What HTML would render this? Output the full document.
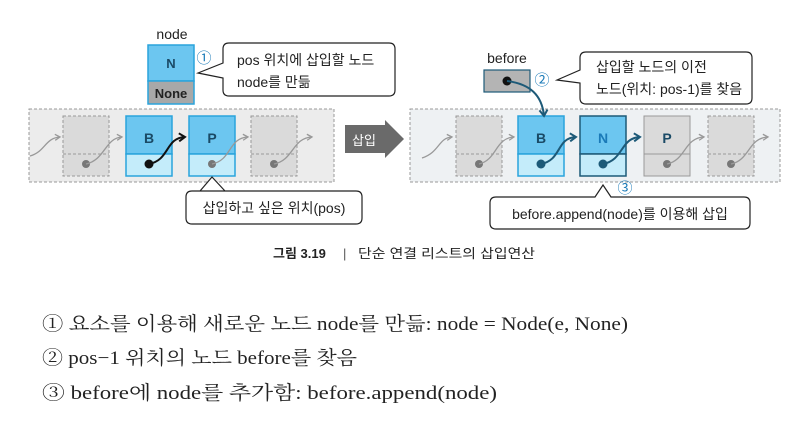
<!DOCTYPE html>
<html><head><meta charset="utf-8"><style>
body{margin:0;background:#fff;width:800px;height:417px;overflow:hidden}
svg text{font-family:"Liberation Sans","Noto Sans CJK KR",sans-serif}
.s{font-family:"Liberation Serif","Noto Serif CJK SC","Noto Sans CJK KR",serif !important}
</style></head><body>
<svg width="800" height="417" viewBox="0 0 800 417" xmlns="http://www.w3.org/2000/svg">
<defs>
<marker id="ag" markerWidth="8" markerHeight="8" refX="6" refY="4" orient="auto" markerUnits="userSpaceOnUse"><path d="M1,1 L6,4 L1,7" fill="none" stroke="#999" stroke-width="1.3"/></marker>
<marker id="ak" markerWidth="10" markerHeight="10" refX="7" refY="5" orient="auto" markerUnits="userSpaceOnUse"><path d="M1,1 L7,5 L1,9" fill="none" stroke="#111" stroke-width="2"/></marker>
<marker id="ab" markerWidth="10" markerHeight="10" refX="7" refY="5" orient="auto" markerUnits="userSpaceOnUse"><path d="M1,1 L7,5 L1,9" fill="none" stroke="#1d5a78" stroke-width="2"/></marker>
</defs>
<!-- LEFT -->
<text x="172" y="39" font-size="14" text-anchor="middle" fill="#222">node</text>
<rect x="148" y="45" width="46" height="36" fill="#6cc6f0" stroke="#2aa4dc" stroke-width="1.5"/>
<rect x="148" y="81" width="46" height="23" fill="#a8a8a8" stroke="#2aa4dc" stroke-width="1.5"/>
<text x="171" y="68" font-size="13" font-weight="bold" text-anchor="middle" fill="#1a4a66">N</text>
<text x="171" y="98" font-size="13" font-weight="bold" text-anchor="middle" fill="#222">None</text>
<text x="204" y="63" font-size="15" text-anchor="middle" fill="#1a7ab8">①</text>
<path d="M229,43 H389 Q395,43 395,49 V90 Q395,96 389,96 H229 Q223,96 223,90 V78 L198,73 L223,63 V49 Q223,43 229,43 Z" fill="#fff" stroke="#222" stroke-width="1.2"/>
<text x="237" y="65" font-size="14" fill="#222">pos 위치에 삽입할 노드</text>
<text x="237" y="87" font-size="14" fill="#222">node를 만듦</text>
<rect x="29" y="109" width="305" height="73" fill="#ececec" stroke="#999" stroke-dasharray="3,2"/>
<rect x="63" y="116" width="46" height="60" fill="#dadada" stroke="#999" stroke-dasharray="3,2"/>
<line x1="63" y1="154" x2="109" y2="154" stroke="#999" stroke-dasharray="3,2"/>
<rect x="251" y="116" width="46" height="60" fill="#dadada" stroke="#999" stroke-dasharray="3,2"/>
<line x1="251" y1="154" x2="297" y2="154" stroke="#999" stroke-dasharray="3,2"/>
<rect x="126" y="116" width="46" height="38" fill="#6cc6f0" stroke="#2aa4dc" stroke-width="1.5"/>
<rect x="126" y="154" width="46" height="22" fill="#c4ecfa" stroke="#2aa4dc" stroke-width="1.5"/>
<rect x="189" y="116" width="46" height="38" fill="#6cc6f0" stroke="#2aa4dc" stroke-width="1.5"/>
<rect x="189" y="154" width="46" height="22" fill="#c4ecfa" stroke="#2aa4dc" stroke-width="1.5"/>
<text x="149" y="143" font-size="14" font-weight="bold" text-anchor="middle" fill="#1a4a66">B</text>
<text x="212" y="143" font-size="14" font-weight="bold" text-anchor="middle" fill="#1a4a66">P</text>
<path d="M30,156 C45,152 45,138 60,137" fill="none" stroke="#999" stroke-width="1.3" marker-end="url(#ag)"/>
<circle cx="86" cy="164" r="4" fill="#777"/><path d="M86,164 C105,160 105,138 122,137" fill="none" stroke="#999" stroke-width="1.3" marker-end="url(#ag)"/>
<circle cx="149" cy="164" r="4.5" fill="#111"/><path d="M149,164 C170,160 165,138 185,137" fill="none" stroke="#111" stroke-width="2" marker-end="url(#ak)"/>
<circle cx="212" cy="164" r="4" fill="#777"/><path d="M212,164 C232,160 228,138 248,137" fill="none" stroke="#999" stroke-width="1.3" marker-end="url(#ag)"/>
<circle cx="274" cy="164" r="4" fill="#777"/><path d="M274,164 C294,160 292,138 312,137" fill="none" stroke="#999" stroke-width="1.3" marker-end="url(#ag)"/>
<path d="M192,191 H356 Q362,191 362,197 V218 Q362,224 356,224 H192 Q186,224 186,218 V197 Q186,191 192,191 H200 L212,177 L225,191" fill="#fff" stroke="#222" stroke-width="1.2"/>
<text x="274" y="213" font-size="14" text-anchor="middle" fill="#222">삽입하고 싶은 위치(pos)</text>
<!-- arrow -->
<path d="M345,125 H385 V120 L404,139 L385,158 V153 H345 Z" fill="#6a6a6a"/>
<text x="364" y="145" font-size="13" text-anchor="middle" fill="#fff">삽입</text>
<!-- RIGHT -->
<text x="507" y="63" font-size="14" text-anchor="middle" fill="#222">before</text>
<rect x="484" y="70" width="46" height="22" fill="#b4b4b4" stroke="#1d5a78" stroke-width="1.2"/>
<text x="542" y="85" font-size="15" text-anchor="middle" fill="#1a7ab8">②</text>
<path d="M586,52 H746 Q752,52 752,58 V98 Q752,104 746,104 H586 Q580,104 580,98 V83 L557,80 L580,70 V58 Q580,52 586,52 Z" fill="#fff" stroke="#222" stroke-width="1.2"/>
<text x="596" y="72" font-size="14" fill="#222">삽입할 노드의 이전</text>
<text x="596" y="94" font-size="14" fill="#222">노드(위치: pos-1)를 찾음</text>
<rect x="410" y="109" width="370" height="73" fill="#eef1f3" stroke="#999" stroke-dasharray="3,2"/>
<rect x="456" y="116" width="46" height="60" fill="#dadada" stroke="#999" stroke-dasharray="3,2"/>
<line x1="456" y1="154" x2="502" y2="154" stroke="#999" stroke-dasharray="3,2"/>
<rect x="708" y="116" width="46" height="60" fill="#dadada" stroke="#999" stroke-dasharray="3,2"/>
<line x1="708" y1="154" x2="754" y2="154" stroke="#999" stroke-dasharray="3,2"/>
<rect x="644" y="116" width="46" height="60" fill="#dadada" stroke="#999"/>
<line x1="644" y1="154" x2="690" y2="154" stroke="#999"/>
<rect x="518" y="116" width="46" height="38" fill="#6cc6f0" stroke="#2aa4dc" stroke-width="1.5"/>
<rect x="518" y="154" width="46" height="22" fill="#c4ecfa" stroke="#2aa4dc" stroke-width="1.5"/>
<rect x="580" y="116" width="46" height="38" fill="#6cc6f0" stroke="#1d5a78" stroke-width="1.5"/>
<rect x="580" y="154" width="46" height="22" fill="#c4ecfa" stroke="#1d5a78" stroke-width="1.5"/>
<text x="541" y="143" font-size="14" font-weight="bold" text-anchor="middle" fill="#1a4a66">B</text>
<text x="603" y="143" font-size="14" font-weight="bold" text-anchor="middle" fill="#1a7ab8">N</text>
<text x="667" y="143" font-size="14" font-weight="bold" text-anchor="middle" fill="#1a4a66">P</text>
<path d="M422,158 C440,152 438,138 452,137" fill="none" stroke="#999" stroke-width="1.3" marker-end="url(#ag)"/>
<circle cx="479" cy="164" r="4" fill="#777"/><path d="M479,164 C497,160 495,138 514,137" fill="none" stroke="#999" stroke-width="1.3" marker-end="url(#ag)"/>
<circle cx="541" cy="164" r="4.5" fill="#1d5a78"/><path d="M541,164 C562,160 556,138 576,137" fill="none" stroke="#1d5a78" stroke-width="2" marker-end="url(#ab)"/>
<circle cx="603" cy="164" r="4.5" fill="#1d5a78"/><path d="M603,164 C624,160 620,138 640,137" fill="none" stroke="#1d5a78" stroke-width="2" marker-end="url(#ab)"/>
<circle cx="667" cy="164" r="4" fill="#777"/><path d="M667,164 C686,160 684,138 704,137" fill="none" stroke="#999" stroke-width="1.3" marker-end="url(#ag)"/>
<circle cx="731" cy="164" r="4" fill="#777"/><path d="M731,164 C750,160 748,138 768,137" fill="none" stroke="#999" stroke-width="1.3" marker-end="url(#ag)"/>
<circle cx="507" cy="81" r="4.5" fill="#111"/><path d="M507,81 C530,84 542,95 544,116" fill="none" stroke="#1d5a78" stroke-width="2" marker-end="url(#ab)"/>
<text x="625" y="193" font-size="15" text-anchor="middle" fill="#1a7ab8">③</text>
<path d="M496,197 H595 L603,185 L611,197 H744 Q750,197 750,203 V223 Q750,229 744,229 H496 Q490,229 490,223 V203 Q490,197 496,197 Z" fill="#fff" stroke="#222" stroke-width="1.2"/>
<text x="620" y="219" font-size="14" text-anchor="middle" fill="#222">before.append(node)를 이용해 삽입</text>
<!-- caption -->
<text x="273" y="258" font-size="13" font-weight="bold" fill="#222">그림 3.19</text>
<text x="343" y="258" font-size="13" fill="#555">|</text>
<text x="358" y="258" font-size="13" fill="#222" textLength="177" lengthAdjust="spacingAndGlyphs">단순 연결 리스트의 삽입연산</text>
<text class="s" x="42" y="330" font-size="19" fill="#222" textLength="586" lengthAdjust="spacingAndGlyphs">① 요소를 이용해 새로운 노드 node를 만듦: node = Node(e, None)</text>
<text class="s" x="42" y="364" font-size="19" fill="#222" textLength="315" lengthAdjust="spacingAndGlyphs">② pos−1 위치의 노드 before를 찾음</text>
<text class="s" x="42" y="399" font-size="19" fill="#222" textLength="455" lengthAdjust="spacingAndGlyphs">③ before에 node를 추가함: before.append(node)</text>
</svg>
</body></html>
